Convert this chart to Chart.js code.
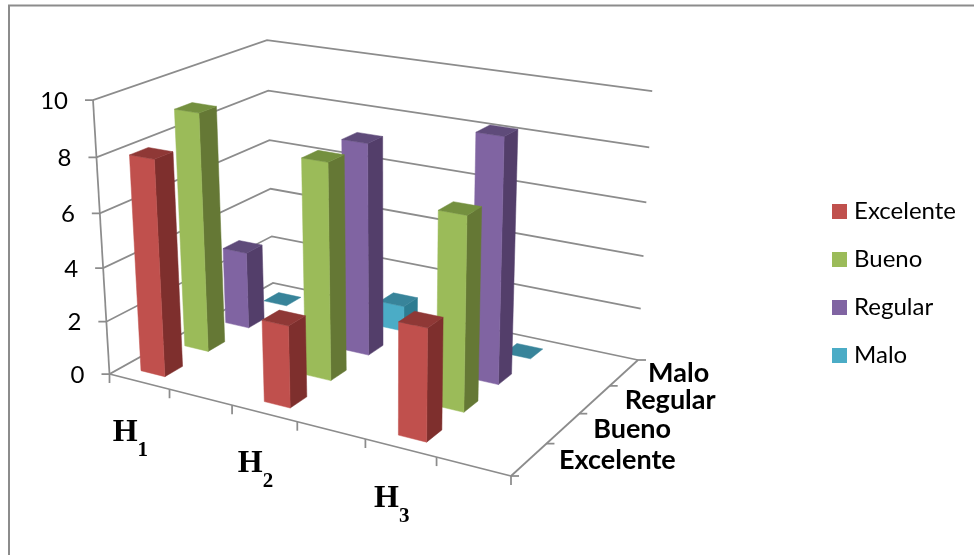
<!DOCTYPE html>
<html>
<head>
<meta charset="utf-8">
<style>
  html, body { margin: 0; padding: 0; background: #fff; }
  canvas { display: block; }
</style>
<script src="https://cdn.jsdelivr.net/npm/chart.js@4"></script>
</head>
<body>
<canvas id="grafico" width="974" height="555"></canvas>
<script>
const categorias = ["H1", "", "H2", "", "H3", ""];
const niveles = ["Excelente", "Bueno", "Regular", "Malo"];
const excelente = [8, null, 3, null, 4, null];
const bueno = [9, null, 8, null, 7, null];
const regular = [3, null, 8, null, 9, null];
const malo = [0, null, 1, null, 0, null];

const colores = {
  Excelente: { frente: "#C0504D", lado: "#7E2F2D", tapa: "#8F3836" },
  Bueno: { frente: "#9BBB59", lado: "#657835", tapa: "#74903F" },
  Regular: { frente: "#8064A2", lado: "#533E6A", tapa: "#5F4B7A" },
  Malo: { frente: "#4BACC6", lado: "#2D7C91", tapa: "#38849A" },
};

const GRIS = "#8C8C8C";
const ANCHO_BARRA = 0.4;

// corners of the plot box on the page, used to build the camera
const piso = { a: [109.5, 374], b: [511, 476], c: [638, 360], d: [273, 283] };
const techo = { a: [93, 100], d: [267, 40] };

function crearCamara() {
  const [ax, ay] = piso.a, [bx, by] = piso.b, [cx, cy] = piso.c, [dx, dy] = piso.d;
  const dx1 = bx - cx, dx2 = dx - cx, sx = ax - bx + cx - dx;
  const dy1 = by - cy, dy2 = dy - cy, sy = ay - by + cy - dy;
  const det = dx1 * dy2 - dx2 * dy1;
  const g = (sx * dy2 - dx2 * sy) / det;
  const h = (dx1 * sy - sx * dy1) / det;
  const colU = [bx - ax + g * bx, by - ay + g * by, g];
  const colV = [dx - ax + h * dx, dy - ay + h * dy, h];
  const col0 = [ax, ay, 1];
  const [ex, ey] = techo.a, [gx] = techo.d;
  const l = (gx * colV[2] - colV[0]) / (ex - gx);
  const colW = [l * ex - ax, l * ey - ay, l - 1];
  return (u, v, w) => {
    const p = [0, 1, 2].map((i) => colU[i] * u + colV[i] * v + colW[i] * w + col0[i]);
    return [p[0] / p[2], p[1] / p[2]];
  };
}
const proyectar = crearCamara();

// 0..1 position of a value along a scale
function dec(escala, valor) {
  return escala.getDecimalForPixel(escala.getPixelForValue(valor));
}

function cara(ctx, puntos, color) {
  ctx.beginPath();
  puntos.forEach((p, i) => (i ? ctx.lineTo(p[0], p[1]) : ctx.moveTo(p[0], p[1])));
  ctx.closePath();
  ctx.fillStyle = color;
  ctx.strokeStyle = color;
  ctx.lineWidth = 0.5;
  ctx.fill();
  ctx.stroke();
}

function linea(ctx, p, q) {
  ctx.beginPath();
  ctx.moveTo(p[0], p[1]);
  ctx.lineTo(q[0], q[1]);
  ctx.stroke();
}

// small square used as legend key, so the text can sit close to it
function muestra(color) {
  const c = document.createElement("canvas");
  c.width = 15;
  c.height = 15;
  const g = c.getContext("2d");
  g.fillStyle = color;
  g.fillRect(0, 0, 15, 15);
  return c;
}

const caja3d = {
  id: "caja3d",
  beforeDraw(chart) {
    const ctx = chart.ctx;
    ctx.save();
    ctx.strokeStyle = GRIS;
    ctx.lineWidth = 2;
    ctx.beginPath();
    ctx.moveTo(974, 5.5);
    ctx.lineTo(9, 5.5);
    ctx.lineTo(9, 555);
    ctx.stroke();
    ctx.restore();
  },
  beforeDatasetsDraw(chart) {
    const ctx = chart.ctx;
    const { x, y, z } = chart.scales;
    ctx.save();
    ctx.strokeStyle = GRIS;
    ctx.lineWidth = 1.75;

    // gridlines over the left and back walls
    y.ticks.forEach((t) => {
      const w = dec(y, t.value);
      const p = proyectar(0, 0, w);
      const q = proyectar(0, 1, w);
      const r = proyectar(1, 1, w);
      ctx.beginPath();
      ctx.moveTo(p[0] - 8, p[1]);
      ctx.lineTo(p[0], p[1]);
      ctx.lineTo(q[0], q[1]);
      ctx.lineTo(r[0], r[1]);
      ctx.stroke();
    });

    // axis lines
    linea(ctx, proyectar(0, 0, 0), proyectar(0, 0, 1));
    linea(ctx, proyectar(0, 0, 0), proyectar(1, 0, 0));
    linea(ctx, proyectar(1, 0, 0), proyectar(1, 1, 0));

    // category ticks along the front edge
    for (let i = 0; i <= categorias.length; i++) {
      const p = proyectar(dec(x, i - 0.5), 0, 0);
      linea(ctx, p, [p[0], p[1] + 9]);
    }
    // depth ticks along the right edge
    for (let k = 0; k <= niveles.length; k++) {
      const p = proyectar(1, dec(z, k - 0.5), 0);
      linea(ctx, p, [p[0] + 8, p[1]]);
    }
    ctx.restore();
  },
  beforeDatasetDraw(chart, args) {
    const ctx = chart.ctx;
    const { x, y, z } = chart.scales;
    const k = args.index;
    const tono = colores[niveles[k]];
    const v1 = dec(z, k - ANCHO_BARRA / 2);
    const v2 = dec(z, k + ANCHO_BARRA / 2);
    ctx.save();
    chart.data.datasets[k].data.forEach((valor, i) => {
      if (valor === null) return;
      const u1 = dec(x, i - ANCHO_BARRA / 2);
      const u2 = dec(x, i + ANCHO_BARRA / 2);
      const w = dec(y, valor);
      if (valor > 0) {
        cara(ctx, [proyectar(u2, v1, 0), proyectar(u2, v2, 0), proyectar(u2, v2, w), proyectar(u2, v1, w)], tono.lado);
        cara(ctx, [proyectar(u1, v1, 0), proyectar(u2, v1, 0), proyectar(u2, v1, w), proyectar(u1, v1, w)], tono.frente);
      }
      cara(ctx, [proyectar(u1, v1, w), proyectar(u2, v1, w), proyectar(u2, v2, w), proyectar(u1, v2, w)], tono.tapa);
    });
    ctx.restore();
    return false;
  },
  afterDatasetsDraw(chart) {
    const ctx = chart.ctx;
    const { x, y, z } = chart.scales;
    ctx.save();
    ctx.fillStyle = "#000";

    // value labels
    ctx.font = "24px Lato";
    ctx.textAlign = "right";
    ctx.textBaseline = "middle";
    y.ticks.forEach((t) => {
      const p = proyectar(0, 0, dec(y, t.value));
      ctx.fillText(String(t.value), p[0] - 25, p[1] + 1);
    });

    // H labels with the number set as a subscript
    ctx.textAlign = "left";
    ctx.textBaseline = "alphabetic";
    categorias.forEach((etiqueta, i) => {
      if (!etiqueta) return;
      const p = proyectar(dec(x, i), 0, 0);
      const px = p[0] - 26.5, py = p[1] + 59;
      ctx.font = "bold 32px 'Liberation Serif'";
      ctx.fillText(etiqueta[0], px, py);
      const ancho = ctx.measureText(etiqueta[0]).width;
      ctx.font = "bold 21px 'Liberation Serif'";
      ctx.fillText(etiqueta.slice(1), px + ancho, py + 15);
    });

    // depth labels, the last one sits a little closer to the axis
    ctx.font = "bold 27px Lato";
    ctx.textBaseline = "middle";
    niveles.forEach((nivel, k) => {
      const p = proyectar(1, dec(z, k), 0);
      ctx.fillText(nivel, p[0] + (k === 3 ? 24 : 30), p[1] + 1);
    });
    ctx.restore();
  },
};

new Chart(document.getElementById("grafico"), {
  type: "bar",
  data: {
    labels: categorias,
    datasets: [
      { label: "Excelente", data: excelente, backgroundColor: colores.Excelente.frente },
      { label: "Bueno", data: bueno, backgroundColor: colores.Bueno.frente },
      { label: "Regular", data: regular, backgroundColor: colores.Regular.frente },
      { label: "Malo", data: malo, backgroundColor: colores.Malo.frente },
    ],
  },
  options: {
    responsive: false,
    animation: false,
    layout: { padding: { right: 8, top: 12 } },
    scales: {
      x: { display: false },
      y: { display: false, min: 0, max: 10, ticks: { stepSize: 2 } },
      z: { type: "category", axis: "x", labels: niveles, offset: true, display: false },
    },
    plugins: {
      tooltip: { enabled: false },
      legend: {
        position: "right",
        labels: {
          usePointStyle: true,
          boxWidth: 5,
          boxHeight: 15,
          padding: 24,
          color: "#000",
          font: { family: "Lato", size: 24 },
          generateLabels: () =>
            niveles.map((nivel, k) => ({
              text: nivel,
              datasetIndex: k,
              fillStyle: colores[nivel].frente,
              strokeStyle: colores[nivel].frente,
              lineWidth: 0,
              pointStyle: muestra(colores[nivel].frente),
            })),
        },
      },
    },
  },
  plugins: [caja3d],
});
</script>
</body>
</html>
